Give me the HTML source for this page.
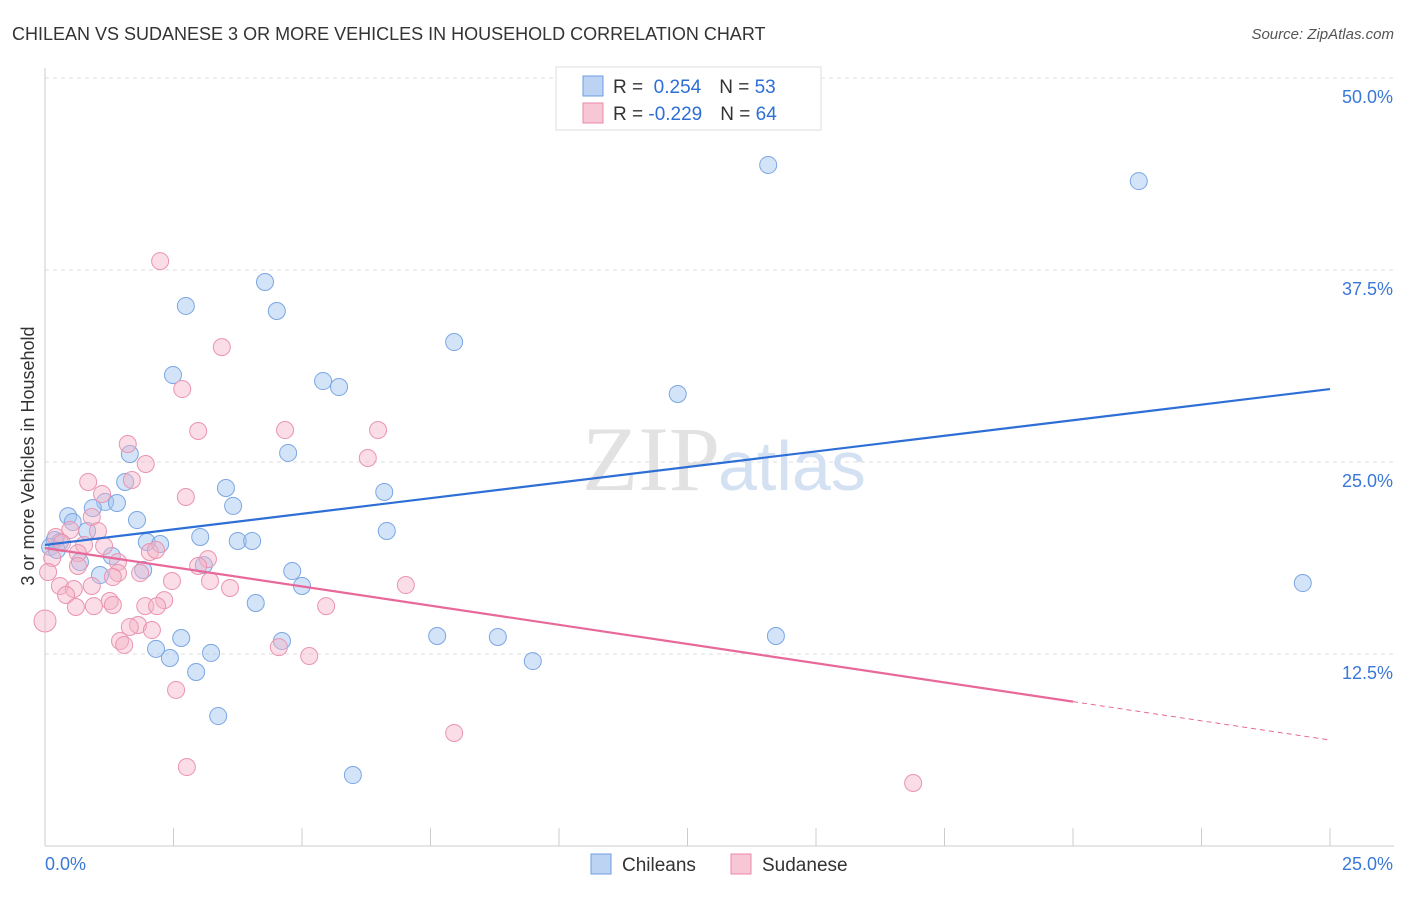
<!DOCTYPE html>
<html><head><meta charset="utf-8"><style>
body{margin:0;background:#fff;font-family:"Liberation Sans",sans-serif;}
svg text{font-family:"Liberation Sans",sans-serif;}
</style></head><body>
<svg width="1406" height="892">
<text x="12" y="40" font-size="18" fill="#333">CHILEAN VS SUDANESE 3 OR MORE VEHICLES IN HOUSEHOLD CORRELATION CHART</text>
<text x="1394" y="39" font-size="15" fill="#555" text-anchor="end" font-style="italic">Source: ZipAtlas.com</text>
<g id="grid"></g>
<text x="720" y="490" font-size="92" fill="#e2e2e2" text-anchor="end" font-family="Liberation Serif" style="font-family:'Liberation Serif',serif">ZIP</text>
<text x="718" y="490" font-size="70" fill="#d3e1f3">atlas</text>
<text transform="translate(34,456) rotate(-90)" font-size="18" fill="#333" text-anchor="middle">3 or more Vehicles in Household</text>
<g id="pts"></g>
<g id="lines"></g>
<g>
<rect x="556" y="67" width="265" height="63" fill="#fff" stroke="#ddd"/>
<rect x="583" y="76" width="20" height="20" fill="#bcd3f3" stroke="#6c9de0"/>
<rect x="583" y="103" width="20" height="20" fill="#f8c7d6" stroke="#e88aa8"/>
<text x="613" y="93" font-size="19" fill="#333">R = <tspan fill="#2d6fd6">&#160;0.254</tspan><tspan dx="18">N = </tspan><tspan fill="#2d6fd6">53</tspan></text>
<text x="613" y="120" font-size="19" fill="#333">R = <tspan fill="#2d6fd6">-0.229</tspan><tspan dx="18">N = </tspan><tspan fill="#2d6fd6">64</tspan></text>
</g>
<g>
<rect x="591" y="854" width="20" height="20" fill="#bcd3f3" stroke="#6c9de0"/>
<text x="622" y="871" font-size="19" fill="#333">Chileans</text>
<rect x="731" y="854" width="20" height="20" fill="#f8c7d6" stroke="#e88aa8"/>
<text x="762" y="871" font-size="19" fill="#333">Sudanese</text>
</g>
</svg>
<script>
const xTicks=[0,25];
const yTicks=[12.5,25,37.5,50];
const blueX=[14.07,21.28,4.28,2.74,4.51,7.96,2.49,5.41,5.72,12.31,4.73,1.65,1.56,3.52,6.60,1.17,1.40,3.66,0.45,0.93,0.54,1.79,0.82,6.65,3.02,3.75,4.03,1.98,2.24,0.19,0.29,0.10,0.23,1.30,0.68,3.09,1.91,4.81,1.07,5.00,24.47,4.10,2.65,7.63,8.81,14.22,4.61,2.16,3.23,2.43,9.49,2.94,3.37,5.99];
const blueY=[44.34,43.29,36.72,35.16,34.83,32.81,30.66,30.27,29.88,29.43,25.59,25.52,23.70,23.31,23.05,22.40,22.33,22.14,21.48,22.00,21.09,21.22,20.51,20.51,20.12,19.86,19.86,19.79,19.66,19.92,19.79,19.47,19.27,18.88,18.49,18.29,17.97,17.90,17.64,16.93,17.12,15.82,13.54,13.67,13.61,13.67,13.35,12.83,12.57,12.24,12.04,11.33,8.46,4.62];
const pinkX=[2.24,3.44,2.67,2.98,4.67,6.48,1.61,1.96,6.28,0.84,1.69,2.74,1.11,0.91,0.49,1.03,0.21,0.33,0.76,1.15,0.64,2.04,2.16,3.17,0.14,1.42,2.98,0.64,1.42,1.85,3.21,2.47,1.32,0.06,0.29,0.56,0.91,7.02,3.60,0.41,1.26,2.32,0.95,1.32,1.95,2.18,5.47,0.60,1.81,1.65,2.08,1.46,1.54,4.55,5.14,2.55,7.96,2.76,16.89,0.0];
const pinkY=[38.08,32.48,29.75,27.02,27.08,27.08,26.17,24.87,25.26,23.70,23.83,22.72,22.92,21.42,20.57,20.51,20.12,19.73,19.60,19.53,19.07,19.14,19.27,18.68,18.75,18.49,18.23,18.23,17.77,17.77,17.25,17.25,17.51,17.84,16.93,16.73,16.93,16.99,16.80,16.34,15.95,16.01,15.62,15.69,15.62,15.62,15.62,15.56,14.39,14.26,14.06,13.35,13.09,12.95,12.37,10.16,7.36,5.14,4.10,14.65];
const blueTrend=[19.6,29.75];
const pinkTrend=[19.4,6.9];
const pinkSolidEnd=20;
const X0=45,X1=1330,Y0=846,Y1=78;
const sx=v=>X0+(v-0)/25*(X1-X0);
const sy=v=>Y0-(v/50)*(Y0-Y1);
const NS='http://www.w3.org/2000/svg';
function mk(tag,attrs,parent){const e=document.createElementNS(NS,tag);for(const k in attrs)e.setAttribute(k,attrs[k]);parent.appendChild(e);return e;}
const grid=document.getElementById('grid');
yTicks.forEach(t=>{
 const l=mk('line',{x1:45,x2:1394,y1:sy(t),y2:sy(t),stroke:'#ddd','stroke-dasharray':'4,4'},grid);
 
 
 const tx=mk('text',{x:1393,y:sy(t)+25,'font-size':18,fill:'#3a78d8','text-anchor':'end'},grid);
 tx.textContent=t.toFixed(1)+'%';
 
 
});
mk('line',{x1:45,x2:45,y1:68,y2:846,stroke:'#ccc'},grid);
mk('line',{x1:45,x2:1394,y1:846,y2:846,stroke:'#ccc'},grid);
for(let i=0;i<=10;i++){const x=sx(i*2.5);mk('line',{x1:x,x2:x,y1:828,y2:846,stroke:'#ccc'},grid);}
xTicks.forEach((t,i)=>{
 const tx=mk('text',{x:i==0?45:1393,y:870,'font-size':18,fill:'#3a78d8','text-anchor':i==0?'start':'end'},grid);
 tx.textContent=t.toFixed(1)+'%';
 
 
});
const pts=document.getElementById('pts');
blueX.forEach((x,i)=>{
 const c=mk('circle',{cx:sx(x),cy:sy(blueY[i]),r:8.5,fill:'rgba(160,195,240,0.45)',stroke:'#7aa6e3','stroke-width':1},pts);
 
 
});
pinkX.forEach((x,i)=>{
 const c=mk('circle',{cx:sx(x),cy:sy(pinkY[i]),r:i==pinkX.length-1?11:8.5,fill:'rgba(245,180,200,0.45)',stroke:'#eb94b0','stroke-width':1},pts);
 
 
});
const lines=document.getElementById('lines');
const bl=mk('line',{x1:sx(0),y1:sy(blueTrend[0]),x2:sx(25),y2:sy(blueTrend[1]),stroke:'#2d6fd6','stroke-width':2.2},lines);


const pm=pinkTrend[0]+(pinkTrend[1]-pinkTrend[0])*pinkSolidEnd/25;
const pl=mk('line',{x1:sx(0),y1:sy(pinkTrend[0]),x2:sx(pinkSolidEnd),y2:sy(pm),stroke:'#e8689a','stroke-width':2.2},lines);


const pd=mk('line',{x1:sx(pinkSolidEnd),y1:sy(pm),x2:sx(25),y2:sy(pinkTrend[1]),stroke:'#e8689a','stroke-width':1,'stroke-dasharray':'5,4'},lines);


</script>
</body></html>
